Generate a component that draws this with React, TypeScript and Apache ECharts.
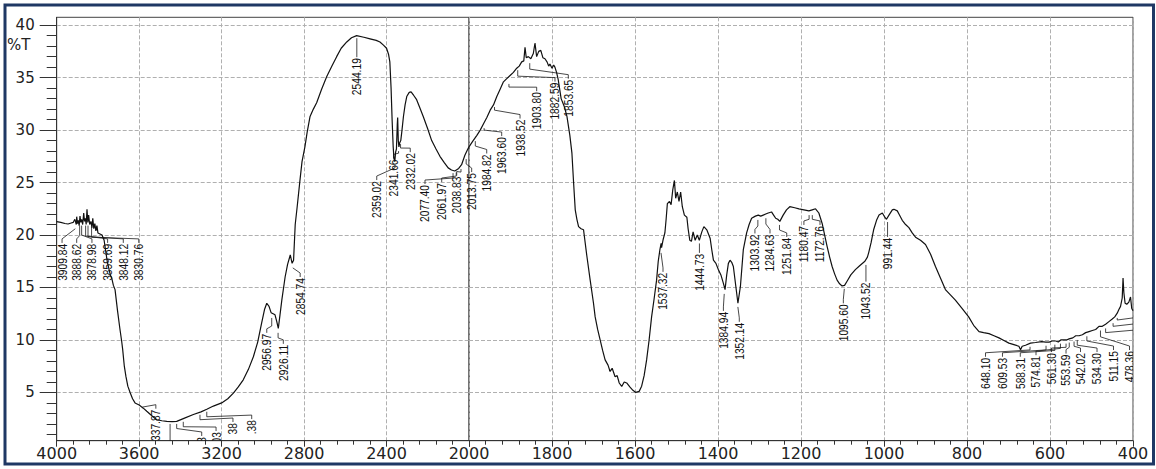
import React, { useEffect, useRef } from "react";
import * as echarts from "echarts";

// ---------- axis ticks ----------
const xTicksHigh = [4000, 3600, 3200, 2800, 2400, 2000];
const xTicksLow = [2000, 1800, 1600, 1400, 1200, 1000, 800, 600, 400];
const yTickLabels = [5, 10, 15, 20, 25, 30, 35, 40];
const yMinorTicks = [1, 2, 3, 4, 6, 7, 8, 9, 11, 12, 13, 14, 16, 17, 18, 19, 21, 22, 23, 24, 26, 27, 28, 29, 31, 32, 33, 34, 36, 37, 38, 39];
const Y_MIN = 0.4;
const Y_MAX = 40.75;

// ---------- spectrum 4000-2000 cm-1 ----------
const wnHigh = [
  4000, 3980, 3960, 3945, 3930, 3920, 3912, 3905, 3903, 3899,
  3895, 3891, 3887, 3883, 3879, 3874, 3869, 3865, 3861, 3857,
  3853, 3849, 3845, 3840, 3834, 3829, 3825, 3820, 3815, 3810,
  3805, 3800, 3790, 3780, 3770, 3755, 3740, 3733, 3725, 3717,
  3705, 3693, 3685, 3680, 3672, 3664, 3655, 3644, 3632, 3620,
  3600, 3580, 3563, 3540, 3515, 3490, 3466, 3440, 3418, 3380,
  3337, 3300, 3272, 3240, 3200, 3170, 3143, 3120, 3095, 3070,
  3046, 3025, 3006, 2992, 2981, 2970, 2960, 2950, 2941, 2933,
  2925, 2918, 2908, 2892, 2880, 2867, 2858, 2851, 2843, 2834,
  2819, 2810, 2796, 2785, 2771, 2755, 2739, 2715, 2690, 2665,
  2642, 2620, 2593, 2570, 2545, 2510, 2480, 2450, 2432, 2415,
  2400, 2390, 2384, 2378, 2373, 2368, 2364, 2360, 2356, 2352,
  2348, 2346, 2343, 2340, 2336, 2331, 2325, 2318, 2310, 2302,
  2290, 2281, 2268, 2254, 2240, 2222, 2200, 2181, 2160, 2141,
  2120, 2101, 2085, 2069, 2050, 2036, 2020, 2008, 2000,
];
const tHigh = [
  21.27, 21.2, 21.1, 21.05, 21.15, 21.2, 21.5, 21.0, 21.75, 21.1,
  21.4, 20.9, 21.8, 21.2, 21.5, 21.0, 22.1, 21.3, 21.6, 21.0,
  22.45, 21.2, 21.9, 21.0, 21.3, 20.7, 21.6, 20.6, 21.1, 20.4,
  20.9, 20.2, 20.1, 20.0, 19.5, 17.5, 16.2, 15.9, 15.2, 14.8,
  12.8, 11.0, 9.9, 9.1, 7.5, 6.5, 5.6, 5.0, 4.4, 4.0,
  3.8, 3.5, 3.2, 2.8, 2.4, 2.3, 2.24, 2.22, 2.24, 2.55,
  2.9, 3.15, 3.4, 3.7, 4.0, 4.4, 4.94, 5.5, 6.2, 7.2,
  8.4, 9.8, 11.6, 12.9, 13.5, 13.2, 12.6, 12.5, 12.4, 11.8,
  11.1, 12.2, 13.8, 16.0, 17.2, 18.1, 17.3, 17.6, 21.0, 22.6,
  25.4, 27.0, 28.4, 29.8, 31.3, 32.0, 32.6, 33.9, 35.1, 36.1,
  37.0, 37.8, 38.4, 38.8, 39.0, 38.85, 38.7, 38.55, 38.4, 38.1,
  37.8, 37.2, 36.5, 34.0, 31.0, 28.5, 27.3, 27.0, 27.9, 28.2,
  30.5, 31.2, 29.0, 28.4, 28.8, 29.0, 30.0, 31.3, 32.4, 33.2,
  33.6, 33.65, 33.3, 32.9, 32.2, 31.3, 30.1, 29.0, 28.2, 27.5,
  26.9, 26.4, 26.2, 26.1, 26.35, 26.7, 27.6, 28.1, 28.4,
];

// ---------- spectrum 2000-400 cm-1 ----------
const wnLow = [
  2000, 1990, 1981, 1973, 1965, 1957, 1949, 1941, 1933, 1925,
  1917, 1909, 1901, 1893, 1885, 1879, 1873, 1868, 1865, 1862,
  1857, 1851, 1845, 1841, 1837, 1832, 1827, 1822, 1817, 1812,
  1808, 1805, 1800, 1796, 1793, 1789, 1785, 1778, 1770, 1764,
  1757, 1752, 1748, 1744, 1740, 1736, 1730, 1724, 1716, 1708,
  1700, 1696, 1690, 1684, 1678, 1672, 1665, 1660, 1655, 1648,
  1643, 1638, 1632, 1626, 1620, 1612, 1605, 1598, 1590, 1584,
  1578, 1572, 1566, 1560, 1554, 1548, 1544, 1540, 1537, 1536,
  1532, 1528, 1525, 1522, 1517, 1513, 1509, 1505, 1502, 1498,
  1494, 1490, 1486, 1481, 1475, 1472, 1468, 1464, 1460, 1455,
  1450, 1445, 1439, 1434, 1427, 1419, 1415, 1411, 1405, 1399,
  1393, 1387, 1383, 1379, 1375, 1371, 1367, 1363, 1357, 1352,
  1346, 1339, 1331, 1325, 1319, 1310, 1303, 1297, 1291, 1285,
  1279, 1271, 1266, 1261, 1256, 1251, 1243, 1235, 1227, 1215,
  1205, 1193, 1181, 1173, 1165, 1157, 1149, 1143, 1137, 1131,
  1125, 1119, 1113, 1107, 1101, 1095, 1089, 1080, 1069, 1058,
  1046, 1040, 1037, 1031, 1025, 1018, 1012, 1004, 998, 994,
  988, 980, 976, 968, 964, 956, 948, 940, 932, 924,
  912, 900, 888, 876, 864, 852, 840, 828, 812, 796,
  784, 771, 760, 747, 735, 723, 711, 699, 687, 675,
  671, 667, 659, 647, 635, 620, 610, 602, 595, 586,
  580, 574, 566, 560, 554, 545, 538, 530, 522, 514,
  506, 498, 490, 482, 474, 466, 458, 450, 444, 438,
  434, 430, 426, 424, 422, 419, 415, 410, 406, 403,
  400,
];
const tLow = [
  28.4, 29.0, 29.5, 30.0, 30.6, 31.2, 31.9, 32.4, 33.2, 33.9,
  34.6, 34.9, 35.2, 35.5, 35.9, 36.1, 36.5, 36.6, 37.9, 36.9,
  37.0, 36.8, 37.3, 38.3, 37.0, 37.5, 37.6, 36.9, 36.8, 36.5,
  36.1, 36.3, 35.9, 36.2, 36.0, 35.5, 34.8, 33.0, 32.2, 31.3,
  29.5, 27.8, 25.0, 22.4, 21.5, 20.8, 20.6, 20.5, 18.0, 15.7,
  13.5, 12.2, 11.0, 10.0, 9.0, 8.1, 7.6, 7.0, 7.3, 6.5,
  6.6, 5.9, 5.57, 6.0, 5.9, 5.5, 5.2, 5.0, 5.1, 5.6,
  6.6, 8.1, 10.0, 12.2, 13.9, 15.7, 17.5, 18.6, 19.2, 18.8,
  19.6, 20.2, 21.5, 23.0, 23.2, 22.9, 24.3, 25.2, 23.5, 24.1,
  23.2, 24.1, 22.7, 21.9, 21.7, 20.6, 19.5, 19.4, 20.3, 19.5,
  20.0, 19.5, 20.3, 20.8, 20.5, 19.7, 18.6, 17.6, 17.3, 16.7,
  16.2, 15.4, 14.8, 16.2, 17.3, 17.6, 17.4, 17.0, 15.1, 13.5,
  15.1, 18.6, 20.2, 21.0, 21.6, 21.8, 21.9, 21.8, 21.9, 22.0,
  22.1, 22.2, 21.9, 21.6, 21.5, 21.3, 21.9, 22.4, 22.7, 22.6,
  22.5, 22.4, 22.3, 22.4, 22.5, 22.1, 21.1, 20.0, 18.9, 17.9,
  17.0, 16.3, 15.7, 15.35, 15.15, 15.2, 15.6, 16.2, 16.7, 17.1,
  17.5, 17.9, 18.3, 19.3, 20.5, 21.4, 21.9, 22.1, 21.7, 21.5,
  21.9, 22.4, 22.45, 22.3, 22.0, 21.4, 21.0, 20.7, 20.2, 19.8,
  19.5, 19.1, 18.2, 17.0, 15.9, 14.8, 14.3, 13.8, 13.0, 12.2,
  11.4, 10.8, 10.7, 10.6, 10.4, 10.2, 9.95, 9.7, 9.55, 9.4,
  9.06, 9.4, 9.5, 9.7, 9.76, 9.85, 9.8, 9.8, 9.9, 9.9,
  9.8, 10.0, 10.0, 10.0, 10.1, 10.2, 10.4, 10.4, 10.5, 10.7,
  10.8, 10.9, 11.0, 11.3, 11.3, 11.5, 11.75, 12.0, 12.2, 12.55,
  12.9, 13.2, 14.0, 15.9, 14.5, 13.5, 13.4, 13.6, 14.1, 13.0,
  12.8,
];

// ---------- peak annotations ----------
// [label, peak wavenumber, leader start %T, elbow %T, label wavenumber, label top %T]
type Ann = [string, number, number, number, number, number];

const annHigh: Ann[] = [
  ["3909.84", 3909.84, 20.6, 20.6, 3974, 19.25],
  ["3888.62", 3888.62, 20.9, 19.95, 3903, 19.25],
  ["3878.98", 3878.98, 20.9, 20.0, 3829, 19.25],
  ["3859.69", 3859.69, 20.9, 19.9, 3753, 19.25],
  ["3848.12", 3848.12, 20.9, 19.85, 3677, 19.25],
  ["3830.76", 3830.76, 20.8, 19.8, 3602, 19.25],
  ["2956.97", 2956.97, 12.1, 11.33, 2981, 10.68],
  ["2926.11", 2926.11, 10.68, 10.2, 2900.8, 9.63],
  ["2854.74", 2854.74, 16.87, 16.87, 2819, 16.0],
  ["2544.19", 2544.19, 38.76, 38.76, 2544.19, 36.95],
  ["2359.02", 2359.02, 26.7, 26.4, 2447.5, 25.24],
  ["2341.66", 2341.66, 28.0, 27.8, 2366, 27.3],
  ["2332.02", 2332.02, 28.67, 28.29, 2285, 27.9],
  ["2077.40", 2077.4, 25.9, 25.43, 2213.5, 24.86],
  ["2061.97", 2061.97, 25.96, 25.62, 2132.4, 25.05],
  ["2038.83", 2038.83, 26.29, 26.0, 2059.6, 25.67],
  ["2013.75", 2013.75, 27.24, 26.77, 1987, 26.0],
];

const annHighClipped: Ann[] = [
  ["337.87", 3585, 3.6, 3.6, 3519, 3.45],
  ["", 3450, 2.0, 2.0, 3450, 0.1],
  ["3", 3418, 2.0, 1.56, 3296.6, 0.85],
  ["03", 3386, 2.2, 1.73, 3227, 1.32],
  ["38", 3305, 2.87, 2.4, 3145, 2.18],
  [".38", 3272, 3.16, 2.68, 3054, 2.46],
];

const annLow: Ann[] = [
  ["1984.82", 1984.82, 28.95, 28.48, 1957.3, 27.77],
  ["1963.60", 1963.6, 30.19, 30.0, 1921.2, 29.43],
  ["1938.52", 1938.52, 32.2, 31.9, 1877, 31.1],
  ["1903.80", 1903.8, 34.4, 34.1, 1836.9, 33.71],
  ["1882.59", 1882.59, 35.71, 35.14, 1792.8, 34.62],
  ["1853.65", 1853.65, 36.38, 35.81, 1760.7, 34.9],
  ["1537.32", 1537.32, 18.3, 18.3, 1532.5, 16.49],
  ["1444.73", 1444.73, 19.2, 19.2, 1444.73, 18.3],
  ["1384.94", 1384.94, 14.39, 14.39, 1387, 12.77],
  ["1352.14", 1352.14, 13.15, 13.15, 1348.7, 11.73],
  ["1303.92", 1303.92, 21.44, 20.86, 1311, 20.15],
  ["1284.63", 1284.63, 21.6, 21.05, 1274.7, 20.15],
  ["1251.84", 1251.84, 20.96, 20.48, 1234.4, 19.82],
  ["1180.47", 1180.47, 21.9, 21.5, 1193, 20.96],
  ["1172.76", 1172.76, 21.9, 21.5, 1154.2, 20.96],
  ["1095.60", 1095.6, 14.87, 14.87, 1098, 13.49],
  ["1043.52", 1043.52, 17.15, 17.15, 1043.52, 15.56],
  ["991.44", 991.44, 21.24, 21.24, 991.44, 19.82],
];

const annLowClipped: Ann[] = [
  ["648.10", 648.1, 9.35, 9.05, 755.4, 8.4],
  ["609.53", 609.53, 9.45, 9.05, 714.5, 8.4],
  ["588.31", 588.31, 9.55, 9.0, 671.6, 8.4],
  ["574.81", 574.81, 9.65, 9.2, 633.7, 8.55],
  ["561.30", 561.3, 9.65, 9.3, 596.4, 8.85],
  ["553.59", 553.59, 9.75, 9.3, 561.4, 8.7],
  ["542.02", 542.02, 9.85, 9.4, 526.5, 8.85],
  ["534.30", 534.3, 10.0, 9.5, 486.7, 8.85],
  ["511.15", 511.15, 10.35, 9.9, 447, 9.04],
  ["478.36", 478.36, 10.9, 10.3, 408.4, 9.04],
  ["", 438, 12.1, 11.9, 385, 11.8],
  ["", 448, 11.6, 11.3, 385, 11.2],
  ["", 466, 11.1, 10.7, 385, 10.6],
];

function annSeries(list: Ann[], xi: number, yi: number, clip: boolean) {
  return {
    type: "custom",
    xAxisIndex: xi,
    yAxisIndex: yi,
    clip,
    silent: true,
    z: 3,
    encode: { x: 0, y: 1 },
    data: list.map((a) => [a[1], a[2], a[3], a[4], a[5]]),
    renderItem: (params: any, api: any) => {
      const a = list[params.dataIndex];
      const p0 = api.coord([a[1], a[2]]);
      const p1 = api.coord([a[1], a[3]]);
      const p3 = api.coord([a[4], a[5]]);
      const bent = Math.abs(p3[0] - p1[0]) > 0.5;
      const p2 = bent ? [p3[0], p3[1] - 4] : p3;
      return {
        type: "group",
        children: [
          {
            type: "polyline",
            shape: { points: [p0, p1, p2, p3] },
            style: { stroke: "#1a1a1a", lineWidth: 0.8, fill: "none" },
          },
          {
            type: "text",
            x: p3[0],
            y: p3[1] + 1,
            rotation: Math.PI / 2,
            scaleX: 0.93,
            scaleY: 1.2,
            style: {
              text: a[0],
              fontFamily: "Liberation Sans",
              fontSize: 11,
              fill: "#111",
              align: "right",
              verticalAlign: "middle",
            },
          },
        ],
      };
    },
  };
}

const axisColor = "#333";
const splitStyle = { color: "#b0b0b0", type: [4, 2], width: 1 };

function xAxisFor(ticks: number[], gridIndex: number, hideMin: boolean) {
  return {
    type: "value",
    gridIndex,
    inverse: true,
    min: Math.min(...ticks),
    max: Math.max(...ticks),
    interval: Math.abs(ticks[0] - ticks[1]),
    axisLine: { show: true, lineStyle: { color: axisColor, width: 1 } },
    axisTick: { show: true, length: 6, lineStyle: { color: axisColor } },
    minorTick: { show: true, splitNumber: 5, length: 4, lineStyle: { color: axisColor } },
    axisLabel: {
      showMinLabel: !hideMin,
      formatter: (v: number) => String(v),
      fontFamily: "DejaVu Sans",
      fontSize: 16,
      color: "#222",
      margin: 5,
    },
    splitLine: { show: true, lineStyle: splitStyle },
    minorSplitLine: { show: false },
  };
}

export default function App() {
  const ref = useRef<HTMLDivElement>(null);
  useEffect(() => {
    if (!ref.current) return;
    const chart = echarts.init(ref.current, undefined, { renderer: "svg" });
    const highData = wnHigh.map((w, i) => [w, tHigh[i]]);
    const lowData = wnLow.map((w, i) => [w, tLow[i]]);
    const option: any = {
      animation: false,
      backgroundColor: "#ffffff",
      grid: [
        { left: 56.7, top: 17.3, width: 412.3, height: 423.4, show: true, borderColor: "#444", borderWidth: 1, outerBoundsMode: "none" },
        { left: 469, top: 17.3, width: 664, height: 423.4, show: true, borderColor: "#444", borderWidth: 1, outerBoundsMode: "none" },
      ],
      xAxis: [xAxisFor(xTicksHigh, 0, true), xAxisFor(xTicksLow, 1, false)],
      yAxis: [
        {
          type: "value",
          gridIndex: 0,
          position: "left",
          min: Y_MIN,
          max: Y_MAX,
          axisLine: { show: true, lineStyle: { color: axisColor } },
          axisTick: { show: true, length: 17, customValues: yTickLabels, lineStyle: { color: axisColor } },
          axisLabel: {
            show: true,
            customValues: yTickLabels,
            margin: 22,
            fontFamily: "DejaVu Sans",
            fontSize: 15,
            color: "#222",
          },
          splitLine: { show: true, lineStyle: splitStyle },
          minorTick: { show: false },
        },
        {
          type: "value",
          gridIndex: 0,
          position: "left",
          min: Y_MIN,
          max: Y_MAX,
          axisLine: { show: false },
          axisTick: { show: true, length: 10, customValues: yMinorTicks, lineStyle: { color: axisColor } },
          axisLabel: { show: false },
          splitLine: { show: false },
        },
        {
          type: "value",
          gridIndex: 1,
          position: "left",
          min: Y_MIN,
          max: Y_MAX,
          axisLine: { show: false },
          axisTick: { show: false, customValues: yTickLabels },
          axisLabel: { show: false },
          splitLine: { show: true, lineStyle: splitStyle },
        },
      ],
      graphic: [
        {
          type: "text",
          left: 7,
          top: 37,
          style: { text: "%T", fontFamily: "DejaVu Sans", fontSize: 15, fill: "#222" },
        },
        {
          type: "rect",
          silent: true,
          z: 100,
          shape: { x: 5, y: 5, width: 1148.5, height: 459 },
          style: { fill: "none", stroke: "#1f3864", lineWidth: 3 },
        },
      ],
      series: [
        {
          type: "line",
          xAxisIndex: 0,
          yAxisIndex: 0,
          data: highData,
          showSymbol: false,
          symbol: "none",
          lineStyle: { color: "#111", width: 1.2 },
          z: 4,
        },
        {
          type: "line",
          xAxisIndex: 1,
          yAxisIndex: 2,
          data: lowData,
          showSymbol: false,
          symbol: "none",
          lineStyle: { color: "#111", width: 1.2 },
          z: 4,
        },
        annSeries(annHigh, 0, 0, false),
        annSeries(annHighClipped, 0, 0, true),
        annSeries(annLow, 1, 2, false),
        annSeries(annLowClipped, 1, 2, true),
      ],
    };
    chart.setOption(option);
    return () => chart.dispose();
  }, []);
  return (
    <div
      ref={ref}
      style={{ position: "absolute", left: 0, top: 0, width: 1156, height: 469, background: "#fff" }}
    />
  );
}
